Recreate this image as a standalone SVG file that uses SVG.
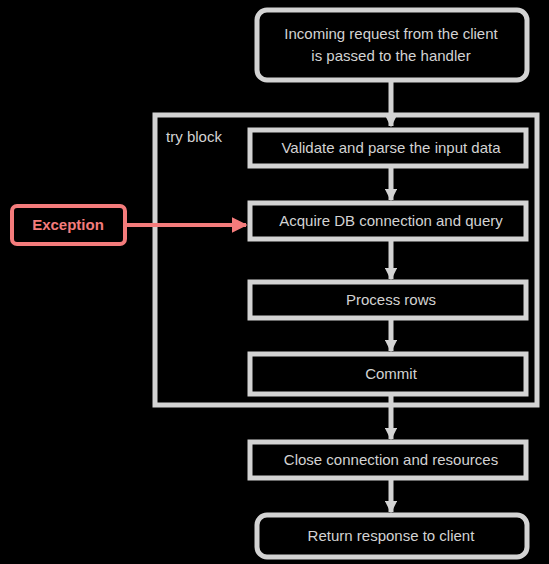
<svg xmlns="http://www.w3.org/2000/svg" width="549" height="564" viewBox="0 0 549 564">
<style>
.box{fill:#000;stroke:#d3d3d3;stroke-width:5}
.lbl{font-family:"Liberation Sans",Arial,sans-serif;font-size:15px;fill:#d3d3d3;text-anchor:middle}
.edge{stroke:#d3d3d3;stroke-width:5;fill:none}
.red{stroke:#f47c7c;stroke-width:4;fill:none}
</style>
<defs>
<marker id="ah" viewBox="0 0 10 10" refX="9" refY="5" markerWidth="2.5" markerHeight="2.5" orient="auto"><path d="M0,0L10,5L0,10z" fill="#d3d3d3"/></marker>
<marker id="ahr" viewBox="0 0 10 10" refX="9" refY="5" markerWidth="4" markerHeight="4" orient="auto"><path d="M0,0L10,5L0,10z" fill="#f47c7c"/></marker>
</defs>
<rect width="549" height="564" fill="#000"/>
<g id="cluster">
<rect x="155" y="115" width="382" height="290" fill="none" stroke="#d3d3d3" stroke-width="5"/>
<text class="lbl" x="194" y="142" font-size="14">try block</text>
</g>
<g id="connectors">
<path class="edge" d="M391,82V126" marker-end="url(#ah)"/>
<path class="edge" d="M391,168V200" marker-end="url(#ah)"/>
<path class="edge" d="M391,240V279" marker-end="url(#ah)"/>
<path class="edge" d="M391,320V351" marker-end="url(#ah)"/>
<path class="edge" d="M391,396V439" marker-end="url(#ah)"/>
<path class="edge" d="M391,480V512" marker-end="url(#ah)"/>
<path class="red" d="M126,225H246" marker-end="url(#ahr)"/>
</g>
<g id="n_start">
<rect class="box" x="257" y="10" width="270" height="70" rx="10"/>
<text class="lbl" x="391" y="39">Incoming request from the client</text>
<text class="lbl" x="391" y="61">is passed to the handler</text>
</g>
<g id="n_a">
<rect class="box" x="250" y="130" width="276" height="36"/>
<text class="lbl" x="391" y="153">Validate and parse the input data</text>
</g>
<g id="n_b">
<rect class="box" x="250" y="203" width="276" height="36"/>
<text class="lbl" x="391" y="226">Acquire DB connection and query</text>
</g>
<g id="n_c">
<rect class="box" x="250" y="282" width="276" height="36"/>
<text class="lbl" x="391" y="305">Process rows</text>
</g>
<g id="n_d">
<rect class="box" x="250" y="354" width="276" height="40"/>
<text class="lbl" x="391" y="379">Commit</text>
</g>
<g id="n_e">
<rect class="box" x="250" y="442" width="276" height="36"/>
<text class="lbl" x="391" y="465">Close connection and resources</text>
</g>
<g id="n_f">
<rect class="box" x="257" y="515" width="270" height="42" rx="10"/>
<text class="lbl" x="391" y="541">Return response to client</text>
</g>
<g id="n_exc">
<rect x="12" y="206" width="113" height="38" rx="5" fill="#000" stroke="#f47c7c" stroke-width="4"/>
<text class="lbl" x="68" y="230" style="fill:#f47c7c;font-weight:bold">Exception</text>
</g>
</svg>
